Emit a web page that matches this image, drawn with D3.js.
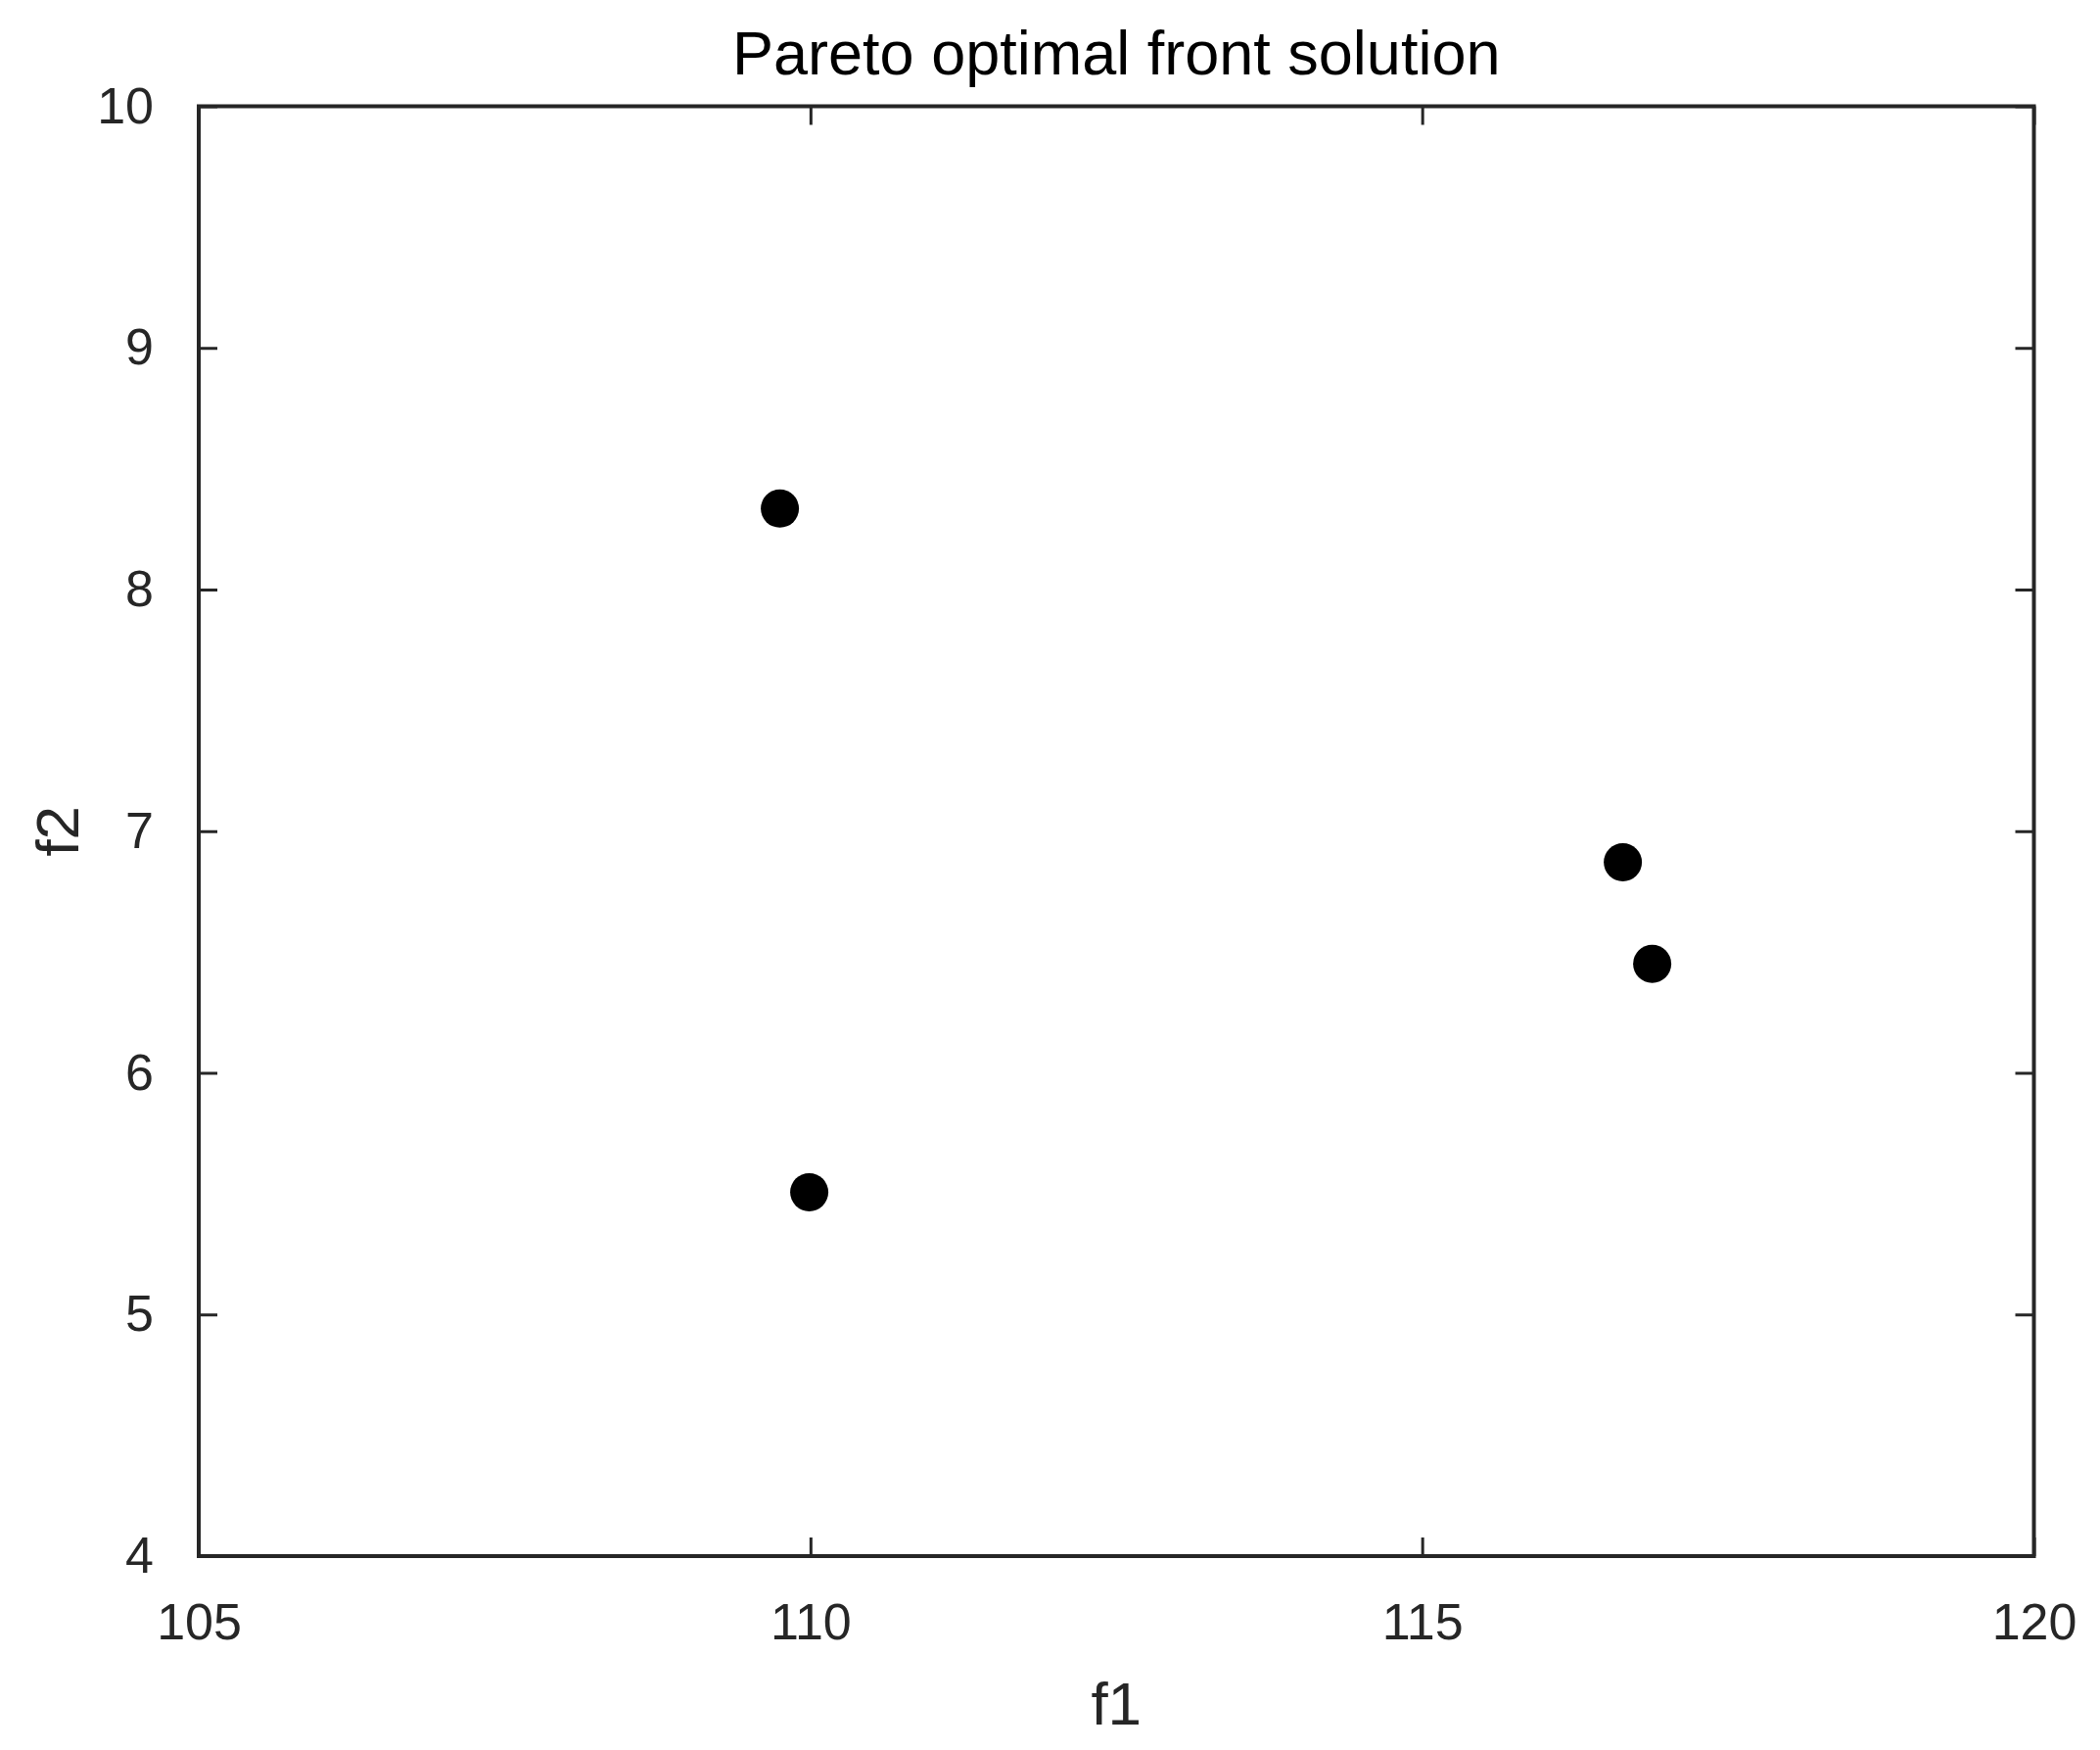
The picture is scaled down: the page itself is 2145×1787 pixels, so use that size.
<!DOCTYPE html>
<html><head><meta charset="utf-8">
<script src="https://cdn.jsdelivr.net/npm/d3@7"></script>
<style>body{margin:0;background:#fff}svg{display:block}</style>
</head><body>
<script>
const f1Values = [109.75, 109.99, 116.64, 116.88];
const f2Values = [8.335, 5.506, 6.871, 6.451];
const xTicks = [105, 110, 115, 120];
const yTicks = [4, 5, 6, 7, 8, 9, 10];
const titleText = "Pareto optimal front solution";
const xLabel = "f1";
const yLabel = "f2";

const W = 2145, H = 1787;
const L = 203, R = 2077.5, T = 108.5, B = 1589;
const svg = d3.select("body").append("svg").attr("width", W).attr("height", H);
const x = d3.scaleLinear().domain([105, 120]).range([L, R]);
const y = d3.scaleLinear().domain([4, 10]).range([B, T]);
const col = "#262626";
const font = "'Liberation Sans', Arial, sans-serif";
const tickLen = 19;

function style(g) {
  g.select(".domain").remove();
  g.selectAll("line").attr("stroke", col).attr("stroke-width", 3);
  g.selectAll("text").attr("fill", col).attr("font-family", font).attr("font-size", 52);
}
svg.append("g").attr("transform", `translate(0,${B})`)
  .call(d3.axisBottom(x).tickValues(xTicks).tickSizeInner(-tickLen).tickSizeOuter(0).tickPadding(48).tickFormat(d3.format("d")))
  .call(style);
svg.append("g").attr("transform", `translate(0,${T})`)
  .call(d3.axisTop(x).tickValues(xTicks).tickSizeInner(-tickLen).tickSizeOuter(0).tickFormat(""))
  .call(style);
svg.append("g").attr("transform", `translate(${L},0)`)
  .call(d3.axisLeft(y).tickValues(yTicks).tickSizeInner(-tickLen).tickSizeOuter(0).tickPadding(46).tickFormat(d3.format("d")))
  .call(style);
svg.append("g").attr("transform", `translate(${R},0)`)
  .call(d3.axisRight(y).tickValues(yTicks).tickSizeInner(-tickLen).tickSizeOuter(0).tickFormat(""))
  .call(style);

svg.append("rect").attr("x", L).attr("y", T).attr("width", R - L).attr("height", B - T)
  .attr("fill", "none").attr("stroke", col).attr("stroke-width", 4);

svg.append("g").selectAll("circle").data(f1Values).join("circle")
  .attr("cx", (d) => x(d)).attr("cy", (d, i) => y(f2Values[i])).attr("r", 19.5).attr("fill", "#000");

svg.append("text").attr("x", (L + R) / 2).attr("y", 76).attr("text-anchor", "middle")
  .attr("font-family", font).attr("font-size", 63).attr("fill", "#000").text(titleText);
svg.append("text").attr("x", (L + R) / 2).attr("y", 1761).attr("text-anchor", "middle")
  .attr("font-family", font).attr("font-size", 62).attr("fill", col).text(xLabel);
svg.append("text").attr("transform", `translate(80,${(T + B) / 2}) rotate(-90)`).attr("text-anchor", "middle")
  .attr("font-family", font).attr("font-size", 62).attr("fill", col).text(yLabel);
</script>
</body></html>
